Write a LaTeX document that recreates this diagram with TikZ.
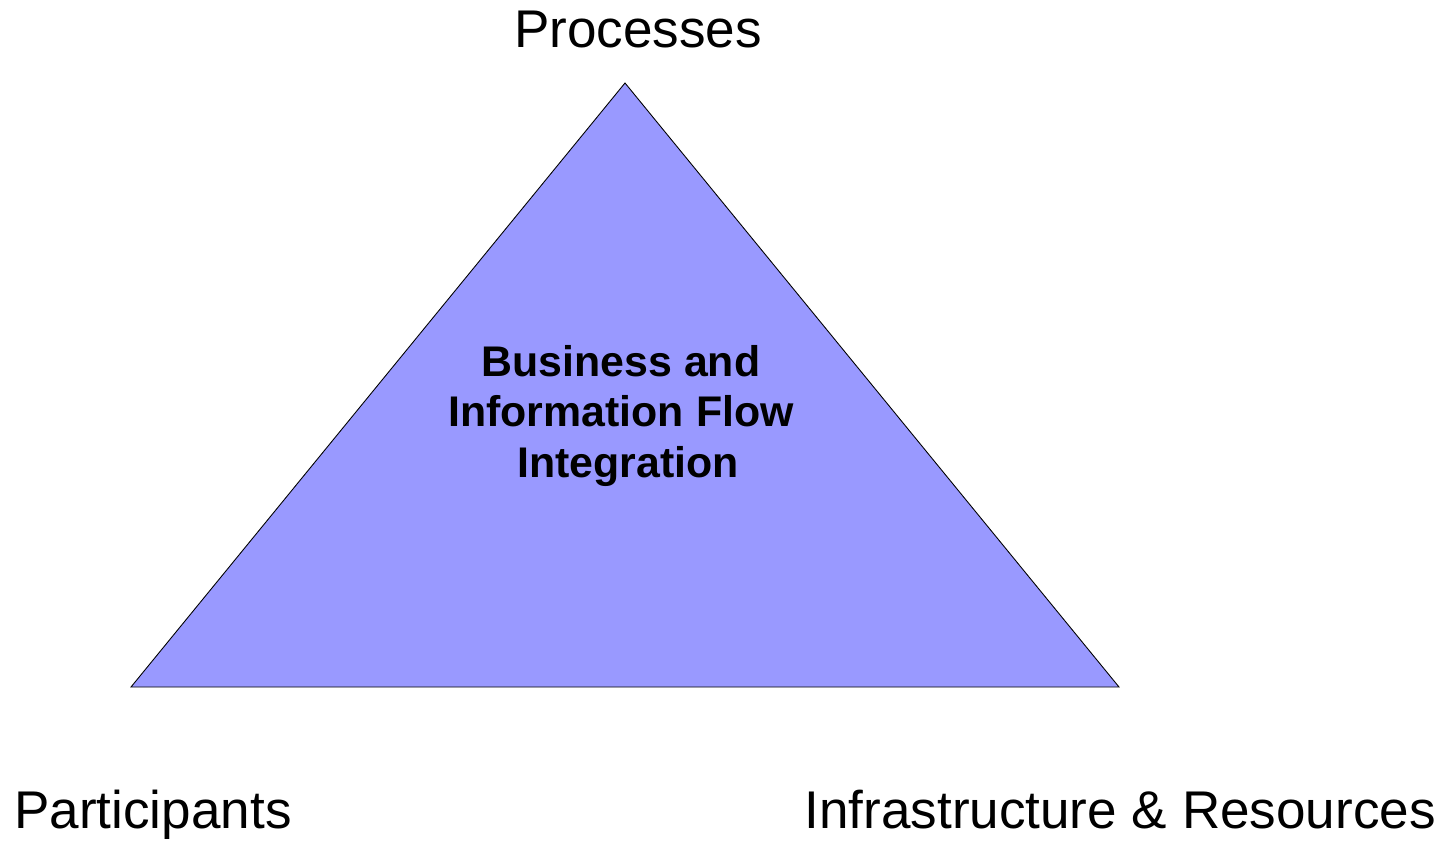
\documentclass[tikz,border=0pt]{standalone}
\usepackage{fontspec}
\setmainfont{Liberation Sans}
\usepackage{tikz}
\usetikzlibrary{positioning}
\usepackage{xcolor}
\definecolor{flowfill}{HTML}{9999FF}

\begin{document}
\begin{tikzpicture}[x=0.02cm, y=-0.02cm]
      \tikzstyle{corner}=[font=\fontsize{30.2}{35}\selectfont, inner sep=0pt]
      \tikzstyle{core}=[font=\fontsize{24.4}{29}\selectfont\bfseries, align=center, inner sep=0pt]

      \useasboundingbox (0,0) rectangle (1452,842);

      % the triangle
      \coordinate (top) at (625,83);
      \coordinate (bl) at (131,687);
      \coordinate (br) at (1119,687);
      \filldraw[fill=flowfill, draw=black, line width=0.5pt] (top) -- (bl) -- (br) -- cycle;

      \node[core] (flow) at (621,416) {Business and\\Information Flow\\\hspace*{8pt}Integration};

      % corner labels
      \node[corner, anchor=base] (processes) at (638,47) {Processes};
      \node[corner, anchor=base west] (participants) at (14,828) {Participants};
      \node[corner, anchor=base east] (infra) at (1436,828) {Infrastructure \& Resources};
    \end{tikzpicture}
\end{document}
